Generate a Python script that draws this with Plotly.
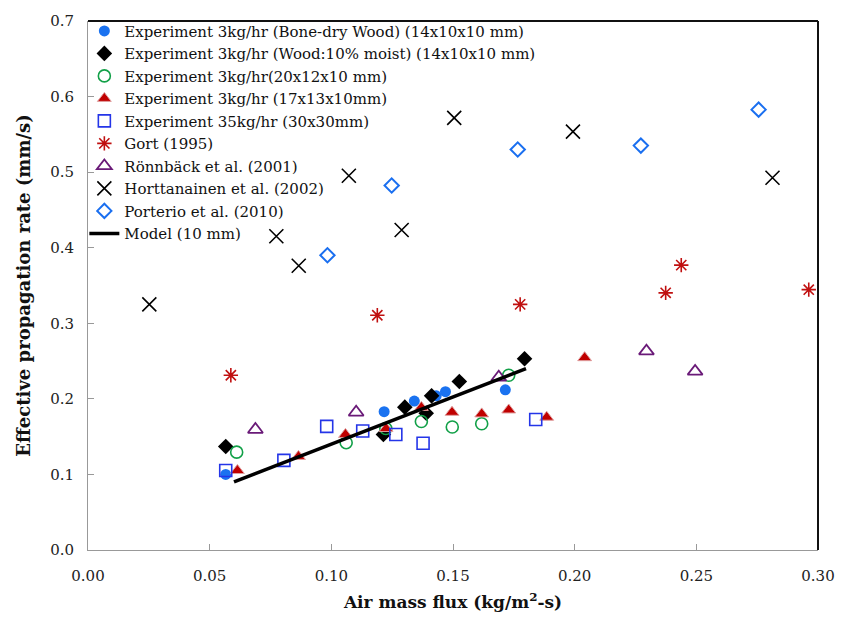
import plotly.graph_objects as go

# ---- data ----
bone_x = [0.0566, 0.1217, 0.1341, 0.1431, 0.1469, 0.1715]
bone_y = [0.100, 0.183, 0.197, 0.204, 0.2095, 0.212]

moist_x = [0.0566, 0.1214, 0.1302, 0.139, 0.1412, 0.1526, 0.1794]
moist_y = [0.137, 0.153, 0.189, 0.181, 0.204, 0.223, 0.253]

g20_x = [0.0611, 0.1061, 0.1224, 0.137, 0.1497, 0.1618, 0.1729]
g20_y = [0.1295, 0.142, 0.1607, 0.170, 0.1627, 0.1671, 0.2312]

r17_x = [0.0614, 0.0865, 0.1058, 0.1225, 0.137, 0.1496, 0.1618, 0.1729, 0.1885, 0.2041]
r17_y = [0.1052, 0.1238, 0.1529, 0.1607, 0.1887, 0.1822, 0.1801, 0.1853, 0.1757, 0.2545]

sq_x = [0.0566, 0.0805, 0.0981, 0.1129, 0.1265, 0.1377, 0.184]
sq_y = [0.1052, 0.1186, 0.1636, 0.1575, 0.1529, 0.1412, 0.1727]

gort_x = [0.0587, 0.1189, 0.1776, 0.2374, 0.2438, 0.2962]
gort_y = [0.2312, 0.3106, 0.325, 0.3403, 0.377, 0.3445]

ron_x = [0.0688, 0.1102, 0.1688, 0.2295, 0.2495]
ron_y = [0.1594, 0.1822, 0.2286, 0.2632, 0.2364]

hort_x = [0.0252, 0.0774, 0.0866, 0.1072, 0.1289, 0.1505, 0.1993, 0.2813]
hort_y = [0.325, 0.4152, 0.3762, 0.4952, 0.4234, 0.5718, 0.5537, 0.4926]

port_x = [0.0984, 0.1248, 0.1766, 0.2272, 0.2756]
port_y = [0.390, 0.4823, 0.5299, 0.5351, 0.5827]

model_x = [0.06, 0.18]
model_y = [0.090, 0.240]

x_ticks = [0.00, 0.05, 0.10, 0.15, 0.20, 0.25, 0.30]
y_ticks = [0.0, 0.1, 0.2, 0.3, 0.4, 0.5, 0.6, 0.7]

FONT = "DejaVu Serif"

fig = go.Figure()

def add(x, y, name, symbol, color, size, fill=None, lw=1.5):
    fig.add_trace(go.Scatter(
        x=x, y=y, mode="markers", name=name,
        marker=dict(symbol=symbol, size=size, color=fill if fill else color,
                    line=dict(color=color, width=lw))))

add(bone_x, bone_y, "Experiment 3kg/hr (Bone-dry Wood) (14x10x10 mm)", "circle", "#1a72f0", 11, fill="#1a72f0", lw=0)
add(moist_x, moist_y, "Experiment 3kg/hr (Wood:10% moist) (14x10x10 mm)", "diamond", "#000000", 12, fill="#000000", lw=0)
add(g20_x, g20_y, "Experiment 3kg/hr(20x12x10 mm)", "circle-open", "#12a048", 12, lw=1.6)
add(r17_x, r17_y, "Experiment 3kg/hr (17x13x10mm)", "triangle-up", "#e0a0a0", 12, fill="#c00000", lw=1)
add(sq_x, sq_y, "Experiment 35kg/hr (30x30mm)", "square-open", "#2435e8", 12, lw=1.6)
add(gort_x, gort_y, "Gort (1995)", "asterisk-open", "#c01010", 12, lw=1.6)
add(ron_x, ron_y, "Rönnbäck et al. (2001)", "triangle-up-open", "#6a1a78", 13, lw=1.8)
add(hort_x, hort_y, "Horttanainen et al. (2002)", "x-thin-open", "#000000", 14, lw=1.6)
add(port_x, port_y, "Porterio et al. (2010)", "diamond-open", "#1a6ff0", 11, lw=2)

fig.add_trace(go.Scatter(x=model_x, y=model_y, mode="lines", name="Model (10 mm)",
                         line=dict(color="#000000", width=3.5)))

# top and right frame lines (dark)
fig.add_shape(type="line", xref="paper", yref="paper", x0=0, x1=1, y0=1, y1=1,
              line=dict(color="#111111", width=2))
fig.add_shape(type="line", xref="paper", yref="paper", x0=1, x1=1, y0=0, y1=1,
              line=dict(color="#111111", width=2))

fig.update_layout(
    width=847, height=621,
    margin=dict(l=88, r=21, t=13, b=69),
    paper_bgcolor="white", plot_bgcolor="white",
    font=dict(family=FONT, color="#222222", size=15),
    showlegend=True,
    legend=dict(x=-0.005, y=1.012, xanchor="left", yanchor="top",
                bgcolor="rgba(255,255,255,0)", font=dict(family=FONT, size=15, color="#111111"),
                tracegroupgap=0, itemwidth=30),
    xaxis=dict(range=[0, 0.30], tickvals=x_ticks, ticktext=[f"{v:.2f}" for v in x_ticks],
               showgrid=False, zeroline=False, showline=True, linecolor="#999999", linewidth=1,
               ticks="inside", ticklen=6, tickcolor="#999999", ticklabelstandoff=12,
               tickfont=dict(family=FONT, size=15, color="#222222"),
               title=dict(text="<b>Air mass flux (kg/m<sup>2</sup>-s)</b>", standoff=12,
                          font=dict(family=FONT, size=17, color="#111111"))),
    yaxis=dict(range=[0, 0.70], tickvals=y_ticks, ticktext=[f"{v:.1f}" for v in y_ticks],
               showgrid=False, zeroline=False, showline=True, linecolor="#999999", linewidth=1,
               ticks="inside", ticklen=6, tickcolor="#999999", ticklabelstandoff=10,
               tickfont=dict(family=FONT, size=15, color="#222222"),
               title=dict(text="<b>Effective propagation rate (mm/s)</b>", standoff=14,
                          font=dict(family=FONT, size=18, color="#111111"))),
)

fig.write_html("out.html")
